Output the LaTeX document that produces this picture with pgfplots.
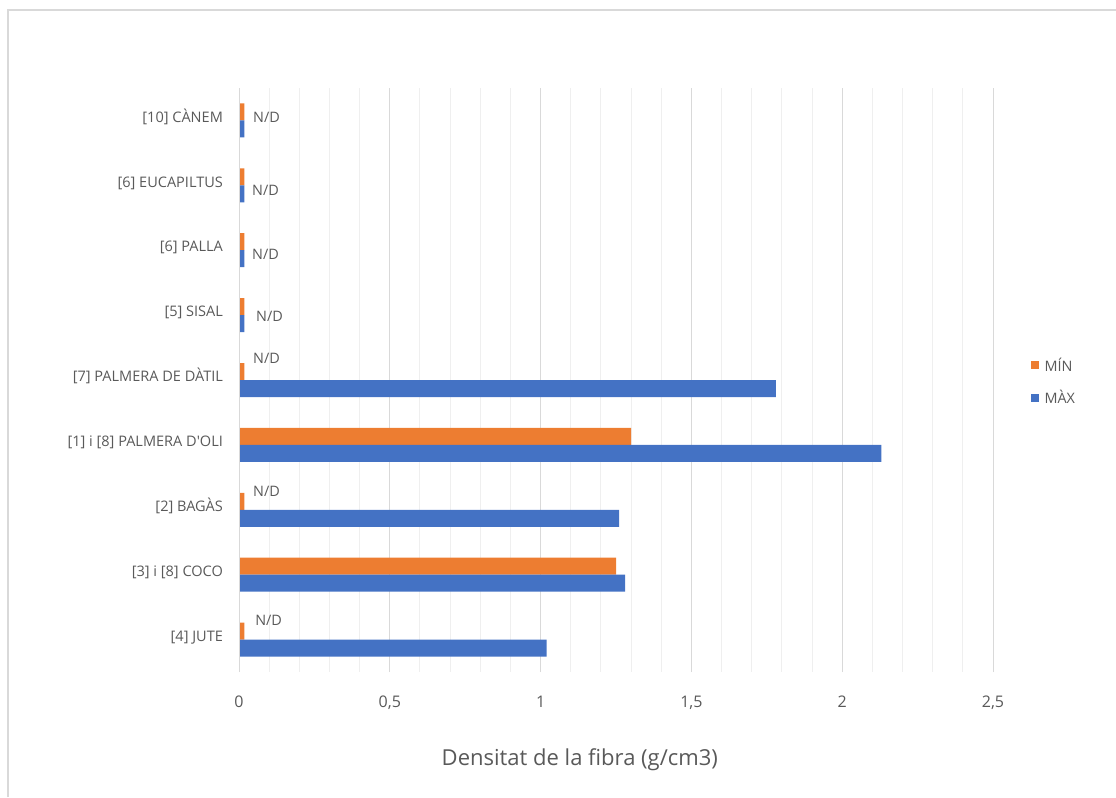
\documentclass[border=0pt]{standalone}
\usepackage{pgfplots}
\pgfplotsset{compat=1.18}
\usepackage{fontspec}
\setmainfont{Open Sans}

\definecolor{barblue}{HTML}{4472C4}
\definecolor{barorange}{HTML}{ED7D31}
\definecolor{txt}{HTML}{595959}
\definecolor{majgrid}{HTML}{D9D9D9}
\definecolor{mingrid}{HTML}{EFEFEF}
\definecolor{frame}{HTML}{D9D9D9}

\begin{document}
\begin{tikzpicture}
\path[use as bounding box] (0pt,0pt) rectangle (837pt,597.75pt);
% chart area border (top and left edges)
\draw[frame, line width=0.9pt] (6pt,0pt) -- (6pt,590.25pt) -- (837pt,590.25pt);

\begin{axis}[
  at={(179.25pt,93.75pt)}, anchor=south west,
  scale only axis, width=565.5pt, height=438pt,
  xbar, bar width=12.75pt,
  xmin=0, xmax=2.5, ymin=-0.5, ymax=8.5,
  xtick={0,0.5,1,1.5,2,2.5}, minor x tick num=4,
  xmajorgrids, xminorgrids,
  major grid style={majgrid, line width=0.75pt},
  minor grid style={mingrid, line width=0.75pt},
  ytick={0,...,8},
  yticklabels={{[4] JUTE},{[3] i [8] COCO},{[2] BAGÀS},{[1] i [8] PALMERA D\textquotesingle OLI},{[7] PALMERA DE DÀTIL},{[5] SISAL},{[6] PALLA},{[6] EUCAPILTUS},{[10] CÀNEM}},
  axis line style={draw=none},
  tick style={draw=none},
  /pgf/number format/use comma,
  /pgf/number format/assume math mode=true,
  xticklabel style={font=\fontsize{12}{14}\selectfont, text=txt, anchor=base, inner sep=0pt, yshift=-26.25pt},
  yticklabel style={font=\fontsize{10.9}{13}\selectfont, text=txt, anchor=base east, inner sep=0pt, xshift=-7.6pt, yshift=-1.3pt},
  xlabel={Densitat de la fibra (g/cm3)},
  xlabel style={at={(axis description cs:0.452,0)}, anchor=base, inner sep=0pt, yshift=-69.75pt, font=\fontsize{16.5}{19}\selectfont, text=txt},
  legend style={at={(axis description cs:1.0504,0.497)}, anchor=west, draw=none, fill=none, inner sep=0pt, row sep=13pt, font=\fontsize{10.8}{13}\selectfont, text=txt, nodes={inner sep=0pt}, column sep=4pt},
  legend cell align=left,
  legend image code/.code={\fill[#1] (0pt,-3pt) rectangle (6pt,3pt);},
]
% minimum density (N/D entries drawn as a stub)
\addplot[fill=barorange, draw=none, bar shift=6.375pt] coordinates {
  (0.018,0) (1.25,1) (0.018,2) (1.30,3) (0.018,4) (0.018,5) (0.018,6) (0.018,7) (0.018,8)};
\addlegendentry{MÍN}
% maximum density
\addplot[fill=barblue, draw=none, bar shift=-6.375pt] coordinates {
  (1.02,0) (1.28,1) (1.26,2) (2.13,3) (1.78,4) (0.018,5) (0.018,6) (0.018,7) (0.018,8)};
\addlegendentry{MÀX}

\draw[majgrid, line width=0.9pt] (axis cs:0,-0.5) -- (axis cs:0,8.5);

\begin{scope}[every node/.style={anchor=west, inner sep=0pt, font=\fontsize{10.8}{13}\selectfont, text=txt}]
\node at (axis cs:0.046,8.04) {N/D};
\node at (axis cs:0.043,6.93) {N/D};
\node at (axis cs:0.043,5.94) {N/D};
\node at (axis cs:0.056,4.98) {N/D};
\node at (axis cs:0.046,4.33) {N/D};
\node at (axis cs:0.046,2.28) {N/D};
\node at (axis cs:0.053,0.30) {N/D};
\end{scope}
\end{axis}
\end{tikzpicture}
\end{document}
